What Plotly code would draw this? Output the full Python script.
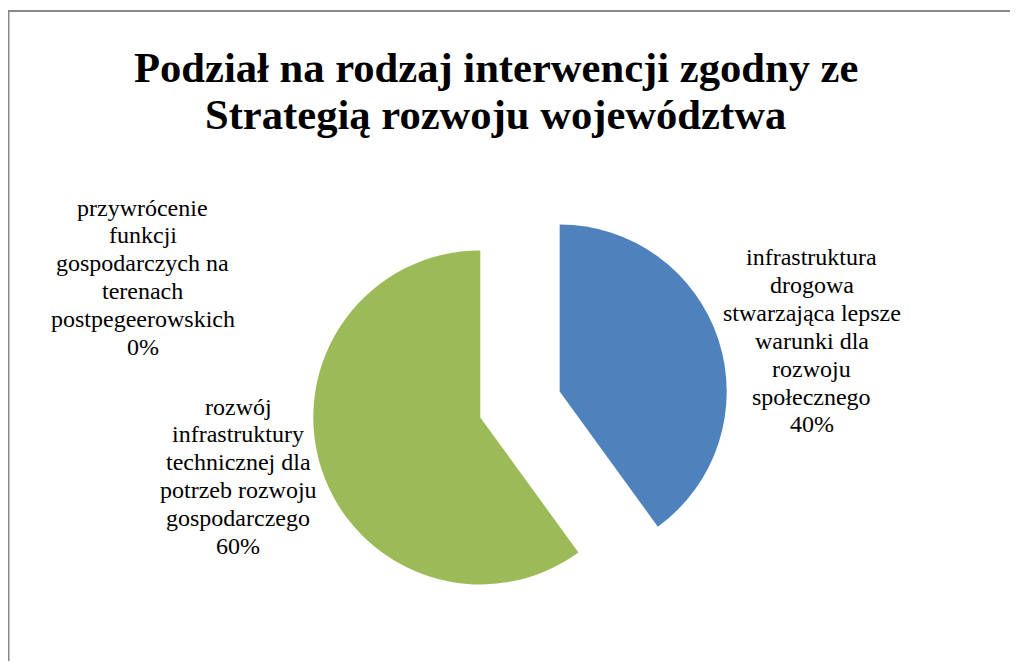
import plotly.graph_objects as go

# page is offset by the default 8px body margin
OX, OY = 8, 8
FW, FH = 1002, 653

title_lines = ["Podział na rodzaj interwencji zgodny ze", "Strategią rozwoju województwa"]
categories = [
    "infrastruktura drogowa stwarzająca lepsze warunki dla rozwoju społecznego",
    "rozwój infrastruktury technicznej dla potrzeb rozwoju gospodarczego",
    "przywrócenie funkcji gospodarczych na terenach postpegeerowskich",
]
values = [40, 60, 0]
colors = ["#4F81BD", "#9BBB59", "#8064A2"]

# label line wrapping as in the reference
label_lines = [
    ["infrastruktura", "drogowa", "stwarzająca lepsze", "warunki dla", "rozwoju", "społecznego"],
    ["rozwój", "infrastruktury", "technicznej dla", "potrzeb rozwoju", "gospodarczego"],
    ["przywrócenie", "funkcji", "gospodarczych na", "terenach", "postpegeerowskich"],
]
# (center x px, first baseline y px) in page coordinates
label_pos = [(811.5, 265.0), (238.0, 414.5), (142.5, 215.5)]
LINE = 27.9
FS = 24


def px2x(px):
    return (px - OX) / FW


def py2y(py):
    return 1 - (py - OY) / FH


total = sum(values)
pcts = [f"{round(v / total * 100)}%" for v in values]

cx, cy, r, pull = 520.0, 404.5, 167.0, 0.25
box = 2 * r * (1 + pull)
dom_y = [py2y(cy + box / 2), py2y(cy - box / 2)]
dom_x = [px2x(cx - 250), px2x(cx + 250)]

fig = go.Figure(go.Pie(
    labels=categories,
    values=values,
    marker=dict(colors=colors, line=dict(width=0)),
    pull=[pull, pull, pull],
    sort=False,
    direction="clockwise",
    rotation=0,
    textinfo="none",
    hoverinfo="label+percent",
    showlegend=False,
    domain=dict(x=dom_x, y=dom_y),
))

annotations = []
serif = "Liberation Serif, Times New Roman, serif"

TFS = 42.6
for t, base in zip(title_lines, [81.7, 128.3]):
    annotations.append(dict(
        text=f"<b>{t}</b>", x=px2x(495.8), y=py2y(base - 0.33 * TFS),
        xref="paper", yref="paper", xanchor="center", yanchor="middle",
        showarrow=False, font=dict(family=serif, size=TFS, color="#000000"),
    ))

for lines, pct, (px, py) in zip(label_lines, pcts, label_pos):
    for j, ln in enumerate(lines + [pct]):
        base = py + j * LINE
        annotations.append(dict(
            text=ln, x=px2x(px), y=py2y(base - 0.33 * FS),
            xref="paper", yref="paper", xanchor="center", yanchor="middle",
            showarrow=False, font=dict(family=serif, size=FS, color="#000000"),
        ))

fig.update_layout(
    width=FW, height=FH,
    margin=dict(l=0, r=0, t=0, b=0),
    paper_bgcolor="white",
    plot_bgcolor="white",
    font=dict(family=serif),
    annotations=annotations,
    shapes=[dict(type="rect", xref="paper", yref="paper",
                 x0=0.0005, x1=1.05, y0=-0.05, y1=py2y(11),
                 line=dict(color="#888888", width=2), fillcolor="rgba(0,0,0,0)")],
)

fig.write_html("out.html")
